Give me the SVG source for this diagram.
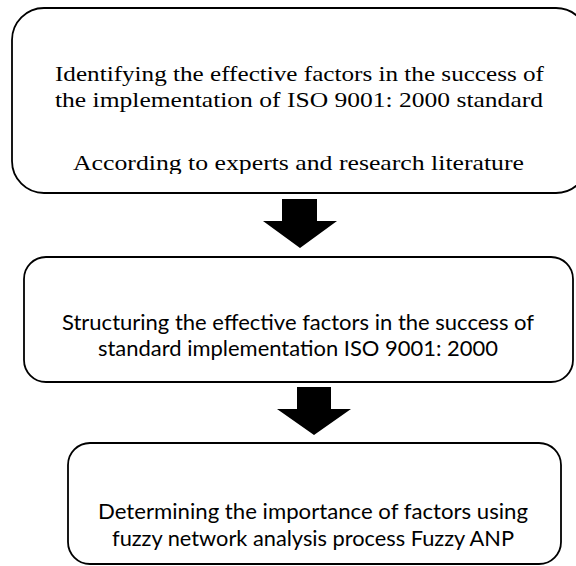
<svg xmlns="http://www.w3.org/2000/svg" width="576" height="566" viewBox="0 0 576 566">
  <style>
    .box { fill: #ffffff; stroke: #000000; stroke-width: 1.8; }
    .serif { font-family: "Liberation Serif", "Times New Roman", serif; font-size: 22px; fill: #000000; text-anchor: middle; }
    .sans { font-family: Lato, "Liberation Sans", Arial, sans-serif; font-size: 21px; fill: #000000; text-anchor: middle; }
    .arrow { fill: #000000; stroke: none; }
  </style>
  <defs>
    <clipPath id="clipStep1">
      <rect x="0" y="0" width="576" height="174"/>
    </clipPath>
  </defs>
  <rect width="576" height="566" fill="#ffffff"/>

  <!-- Step 1: identifying the factors -->
  <g id="step1">
    <rect class="box" x="12" y="8" width="576" height="185" rx="32" ry="32"/>
    <text class="serif" x="299.5" y="81" textLength="489" lengthAdjust="spacingAndGlyphs">Identifying the effective factors in the success of</text>
    <text class="serif" x="299" y="107" textLength="488" lengthAdjust="spacingAndGlyphs">the implementation of ISO 9001: 2000 standard</text>
    <text class="serif" x="298.5" y="170" textLength="451" lengthAdjust="spacingAndGlyphs" clip-path="url(#clipStep1)">According to experts and research literature</text>
  </g>

  <!-- Step 2: structuring the factors -->
  <g id="step2">
    <rect class="box" x="24" y="257" width="549" height="125" rx="22" ry="22"/>
    <text class="sans" x="298" y="330" textLength="472" lengthAdjust="spacingAndGlyphs">Structuring the effective factors in the success of</text>
    <text class="sans" x="298" y="356" textLength="400" lengthAdjust="spacingAndGlyphs">standard implementation ISO 9001: 2000</text>
  </g>

  <!-- Step 3: weighting with Fuzzy ANP -->
  <g id="step3">
    <rect class="box" x="68" y="443" width="493" height="121" rx="22" ry="22"/>
    <text class="sans" x="313" y="519" textLength="430" lengthAdjust="spacingAndGlyphs">Determining the importance of factors using</text>
    <text class="sans" x="313" y="546" textLength="402" lengthAdjust="spacingAndGlyphs">fuzzy network analysis process Fuzzy ANP</text>
  </g>

  <!-- Block arrows between steps -->
  <g id="connectors">
    <polygon class="arrow" points="282,199 317,199 317,221 337,221 300,248 263,221 282,221"/>
    <polygon class="arrow" points="297,387 331,387 331,409 351,409 314,435 277,409 297,409"/>
  </g>
</svg>
